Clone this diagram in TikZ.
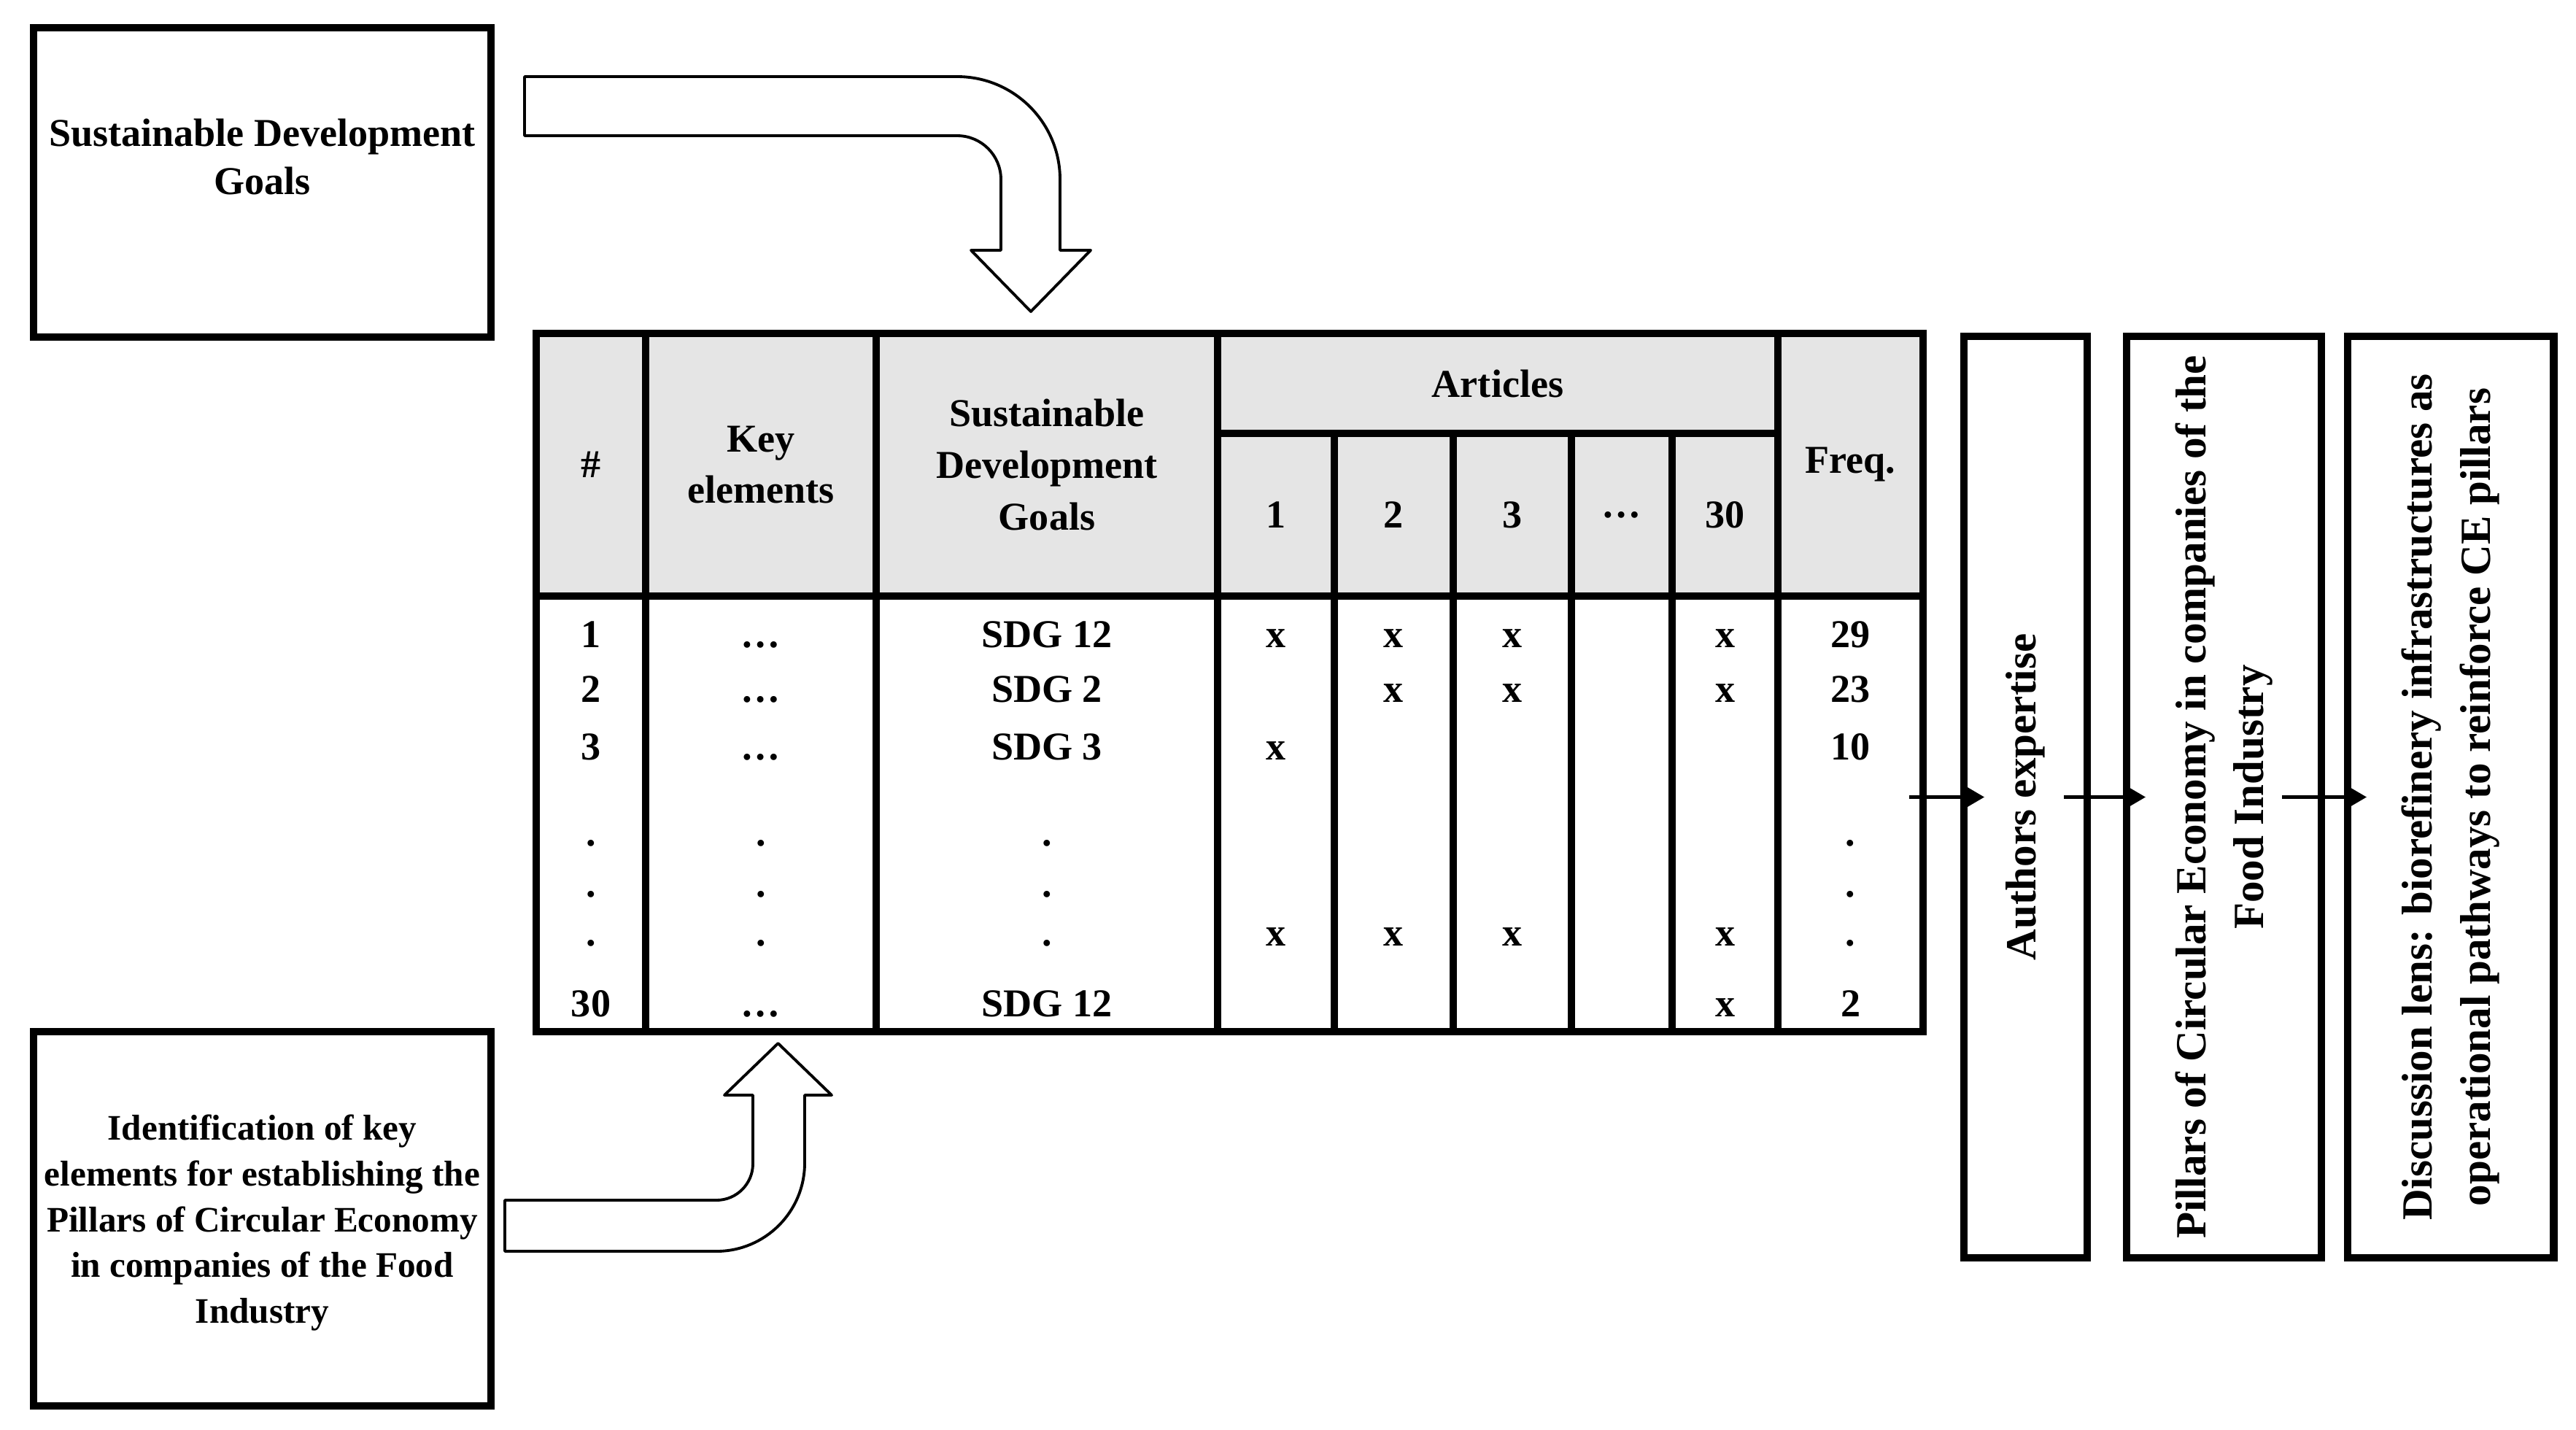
\documentclass[tikz,border=0pt]{standalone}
\usepackage{fontspec}
\setmainfont{Liberation Serif}
\usetikzlibrary{arrows.meta}

\newcommand{\tblfont}{\fontsize{15.4}{20.1}\selectfont\bfseries}
\newcommand{\sdgfont}{\fontsize{15.4}{19}\selectfont\bfseries}
\newcommand{\idfont}{\fontsize{14}{17.9}\selectfont\bfseries}
\newcommand{\sidefont}{\fontsize{16.8}{22.7}\selectfont\bfseries}

\begin{document}
\begin{tikzpicture}[
    bigbox/.style={draw, line width=3.1pt, outer sep=0pt, inner sep=0pt, minimum width=6.27cm},
    boxtext/.style={align=center, inner sep=0pt},
    sidebox/.style={draw, line width=3.1pt, outer sep=0pt, inner sep=0pt, minimum height=12.63cm},
    sidetext/.style={font=\sidefont, rotate=90, align=center, inner sep=0pt},
    head/.style={font=\tblfont, align=center, inner sep=0pt},
    cell/.style={font=\tblfont, inner sep=0pt, anchor=base},
    rule/.style={line width=2.8pt},
    hollow/.style={draw, fill=white, line width=1.1pt, line join=round},
    flow/.style={-{Triangle[length=0.25cm, width=0.28cm]}, line width=1.2pt}
  ]
    \useasboundingbox (0,0) rectangle (35.31,-19.59);

    \node[bigbox, minimum height=4.24cm] (sdg) at (3.595,-2.50) {};
    \node[boxtext, font=\sdgfont] (sdgtxt) at (3.595,-2.15) {Sustainable Development\\Goals};

    \node[bigbox, minimum height=5.13cm] (ident) at (3.595,-16.705) {};
    \node[boxtext, font=\idfont] (identtxt) at (3.595,-16.76) {Identification of key\\elements for establishing the\\Pillars of Circular Economy\\in companies of the Food\\Industry};

    % table
    \fill[gray!20] (7.35,-4.57) rectangle (26.36,-8.17);
    \node[draw, line width=3pt, outer sep=0pt, inner sep=0pt, minimum width=19.01cm, minimum height=9.57cm] (tbl) at (16.855,-9.355) {};
    \draw[rule] (7.35,-8.17) -- (26.36,-8.17);
    \draw[rule] (16.69,-5.94) -- (24.37,-5.94);
    \foreach \x in {8.85,12.01,16.69,24.37}
      \draw[rule] (\x,-4.57) -- (\x,-14.14);
    \foreach \x in {18.29,19.92,21.54,22.92}
      \draw[rule] (\x,-5.94) -- (\x,-14.14);

    \node[head] (hnum) at (8.10,-6.37) {\#};
    \node[head] (hkey) at (10.43,-6.37) {Key\\elements};
    \node[head] (hsdg) at (14.35,-6.37) {Sustainable\\Development\\Goals};
    \node[head] (hart) at (20.53,-5.255) {Articles};
    \foreach \x/\t [count=\i] in {17.49/1, 19.105/2, 20.73/3, 22.23/…, 23.645/30}
      \node[head] (hart\i) at (\x,-7.055) {\t};
    \node[head] (hfreq) at (25.365,-6.37) {Freq.};

    \foreach \x/\t [count=\i] in {8.10/1, 10.43/…, 14.35/SDG 12, 17.49/x, 19.105/x, 20.73/x, 23.645/x, 25.365/29}
      \node[cell] (ra\i) at (\x,-8.87) {\t};
    \foreach \x/\t [count=\i] in {8.10/2, 10.43/…, 14.35/SDG 2, 19.105/x, 20.73/x, 23.645/x, 25.365/23}
      \node[cell] (rb\i) at (\x,-9.62) {\t};
    \foreach \x/\t [count=\i] in {8.10/3, 10.43/…, 14.35/SDG 3, 17.49/x, 25.365/10}
      \node[cell] (rc\i) at (\x,-10.41) {\t};
    \foreach \x/\t [count=\i] in {8.10/., 10.43/., 14.35/., 25.365/.}
      \node[cell] (rd\i) at (\x,-11.59) {\t};
    \foreach \x/\t [count=\i] in {8.10/., 10.43/., 14.35/., 25.365/.}
      \node[cell] (re\i) at (\x,-12.29) {\t};
    \foreach \x/\t [count=\i] in {8.10/., 10.43/., 14.35/., 17.49/x, 19.105/x, 20.73/x, 23.645/x, 25.365/.}
      \node[cell] (rf\i) at (\x,-12.96) {\t};
    \foreach \x/\t [count=\i] in {8.10/30, 10.43/…, 14.35/SDG 12, 23.645/x, 25.365/2}
      \node[cell] (rg\i) at (\x,-13.93) {\t};

    % block arrows
    \draw[hollow] (7.19,-1.05) -- (13.12,-1.05) arc[start angle=90, end angle=0, radius=1.41]
      -- (14.53,-3.43) -- (14.95,-3.43) -- (14.13,-4.27) -- (13.31,-3.43) -- (13.72,-3.43)
      -- (13.72,-2.46) arc[start angle=0, end angle=90, radius=0.60] -- (7.19,-1.86) -- cycle;
    \draw[hollow] (6.92,-16.45) -- (9.82,-16.45) arc[start angle=-90, end angle=0, radius=0.50]
      -- (10.32,-15.01) -- (9.93,-15.01) -- (10.665,-14.30) -- (11.40,-15.01) -- (11.03,-15.01)
      -- (11.03,-15.94) arc[start angle=0, end angle=-90, radius=1.21] -- (6.92,-17.15) -- cycle;

    \node[sidebox, minimum width=1.69cm] (auth) at (27.765,-10.925) {};
    \node[sidebox, minimum width=2.67cm] (pill) at (30.485,-10.925) {};
    \node[sidebox, minimum width=2.82cm] (disc) at (33.59,-10.925) {};
    \node[sidetext] (authtxt) at (auth.center) {Authors expertise};
    \node[sidetext] (pilltxt) at (pill.center) {Pillars of Circular Economy in companies of the\\Food Industry};
    \node[sidetext] (disctxt) at (disc.center) {Discussion lens: biorefinery infrastructures as\\operational pathways to reinforce CE pillars};

    \draw[flow, shorten <=-0.19cm, shorten >=-0.28cm] (tbl.east |- auth.west) -- (auth.west);
    \draw[flow, shorten <=-0.32cm, shorten >=-0.26cm] (auth.east) -- (pill.west);
    \draw[flow, shorten <=-0.54cm, shorten >=-0.26cm] (pill.east) -- (disc.west);
\end{tikzpicture}
\end{document}
